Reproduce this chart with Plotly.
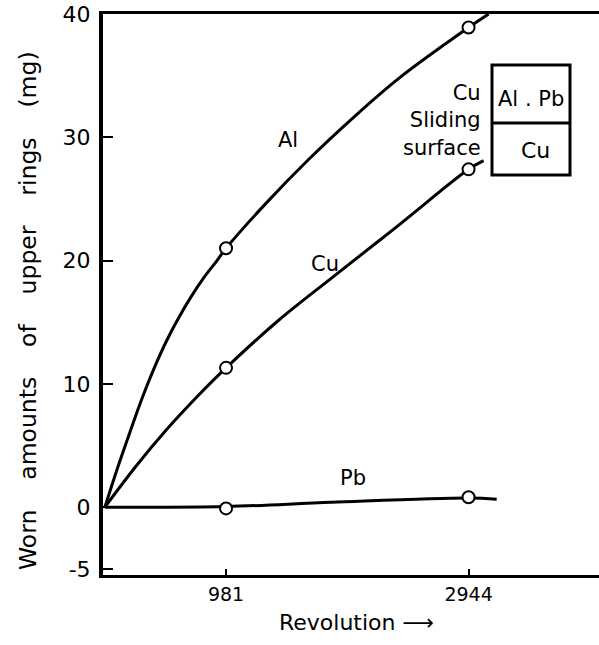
import plotly.graph_objects as go

# ---- data ----
rev_ticks = [981, 2944]
y_ticks = [-5, 0, 10, 20, 30, 40]

al_curve_x = [0, 100, 200, 300, 400, 500, 600, 700, 800, 900, 981, 1300, 1649, 2000, 2382, 2944, 3107]
al_curve_y = [0, 3.1, 6.0, 8.8, 11.3, 13.5, 15.4, 17.1, 18.6, 19.9, 21.0, 24.6, 28.2, 31.5, 34.8, 38.9, 40.0]

cu_curve_x = [0, 250, 500, 750, 981, 1400, 1837, 2382, 2944, 3066]
cu_curve_y = [0, 3.3, 6.3, 9.0, 11.3, 15.1, 18.6, 22.9, 27.4, 28.1]

pb_curve_x = [0, 981, 1837, 2944, 3172]
pb_curve_y = [0, 0.05, 0.4, 0.75, 0.65]

meas_x = [981, 2944]
al_meas = [21.0, 38.9]
cu_meas = [11.3, 27.4]
pb_meas = [-0.1, 0.8]

FONT = "DejaVu Sans"

fig = go.Figure()

for cx, cy in [(al_curve_x, al_curve_y), (cu_curve_x, cu_curve_y), (pb_curve_x, pb_curve_y)]:
    fig.add_trace(go.Scatter(x=cx, y=cy, mode="lines",
                             line=dict(color="black", width=3, shape="spline", smoothing=1.0),
                             hoverinfo="skip", showlegend=False))

for my in [al_meas, cu_meas, pb_meas]:
    fig.add_trace(go.Scatter(x=meas_x, y=my, mode="markers",
                             marker=dict(symbol="circle", size=12, color="white",
                                         line=dict(color="black", width=2)),
                             showlegend=False, cliponaxis=False))

# curve labels
labels = [("Al", 1480, 29.8), ("Cu", 1780, 19.7), ("Pb", 2010, 2.4)]
for t, lx, ly in labels:
    fig.add_annotation(x=lx, y=ly, xref="x", yref="y", text=t, showarrow=False,
                       xanchor="center", yanchor="middle",
                       font=dict(family=FONT, size=21, color="black"))

# legend box (sliding-surface sketch)
def px_x(p):
    return (p - 103) / 496

def px_y(p):
    return (575 - p) / 561

fig.add_shape(type="rect", xref="paper", yref="paper", x0=px_x(492), x1=px_x(570),
              y0=px_y(175), y1=px_y(65), line=dict(color="black", width=3), fillcolor="white")
fig.add_shape(type="line", xref="paper", yref="paper", x0=px_x(492), x1=px_x(570),
              y0=px_y(123), y1=px_y(123), line=dict(color="black", width=3))
fig.add_annotation(xref="paper", yref="paper", x=px_x(531), y=px_y(99),
                   xanchor="center", yanchor="middle",
                   text="Al . Pb", showarrow=False, font=dict(family=FONT, size=21, color="black"))
fig.add_annotation(xref="paper", yref="paper", x=px_x(535), y=px_y(150),
                   xanchor="center", yanchor="middle",
                   text="Cu", showarrow=False, font=dict(family=FONT, size=22, color="black"))
fig.add_annotation(xref="paper", yref="paper", x=px_x(483), y=px_y(121),
                   xanchor="right", yanchor="middle", align="right",
                   text="Cu<br>Sliding<br>surface", showarrow=False,
                   font=dict(family=FONT, size=21, color="black"))

# axis titles
nb = "\u00a0\u00a0\u00a0\u00a0"
ytitle = nb.join(["Worn", "amounts", "of", "upper", "rings", "(mg)"])
fig.add_annotation(xref="paper", yref="paper", x=px_x(28), y=px_y(311),
                   text=ytitle, textangle=-90, showarrow=False, xanchor="center", yanchor="middle",
                   font=dict(family=FONT, size=23.5, color="black"))
fig.add_annotation(xref="paper", yref="paper", x=px_x(356), y=px_y(622),
                   text="Revolution \u27f6", showarrow=False, xanchor="center", yanchor="middle",
                   font=dict(family=FONT, size=22, color="black"))

fig.update_xaxes(range=[-15, 4000], tickvals=rev_ticks, ticktext=[str(v) for v in rev_ticks],
                 ticks="inside", ticklen=6, tickwidth=2, tickcolor="black",
                 showline=True, linecolor="black", linewidth=3, mirror=True,
                 showgrid=False, zeroline=False, ticklabelstandoff=0,
                 tickfont=dict(family=FONT, size=19, color="black"))
fig.update_yaxes(range=[-5.5, 40], tickvals=y_ticks, ticktext=[str(v) for v in y_ticks],
                 ticks="inside", ticklen=10, tickwidth=2, tickcolor="black",
                 showline=True, linecolor="black", linewidth=4,
                 showgrid=False, zeroline=False, ticklabelstandoff=4,
                 tickfont=dict(family=FONT, size=22, color="black"))

fig.update_layout(width=599, height=645, margin=dict(l=103, r=0, t=14, b=70),
                  plot_bgcolor="white", paper_bgcolor="white", showlegend=False)

fig.write_html("out.html")
